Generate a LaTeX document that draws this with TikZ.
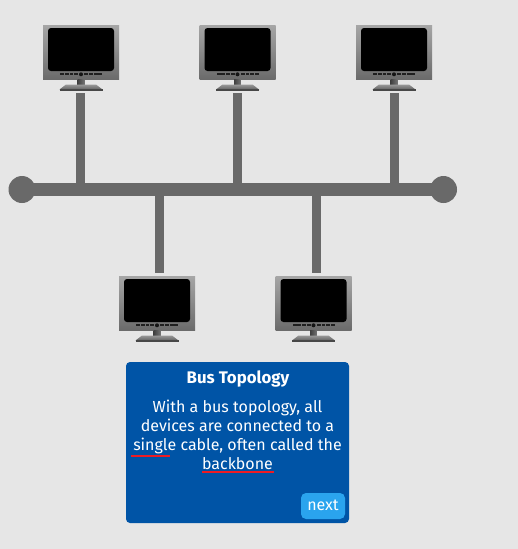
\documentclass[tikz,border=0pt]{standalone}
\usepackage{fontspec}
\setmainfont{Fira Sans}
\usetikzlibrary{calc}
\definecolor{bgc}{HTML}{E6E6E6}
\definecolor{cablec}{HTML}{696969}
\definecolor{cardc}{HTML}{0054A6}
\definecolor{btnc}{HTML}{2AA4EE}
\definecolor{redc}{HTML}{ED1C24}
\tikzset{
  x=1pt,y=-1pt,
  cable/.style={draw=cablec,line width=9pt},
  bus/.style={draw=cablec,line width=13pt},
  busend/.style={circle,fill=cablec,minimum size=27pt,inner sep=0pt,outer sep=0pt},
  cardbox/.style={fill=cardc,rounded corners=4pt},
  btnbox/.style={fill=btnc,rounded corners=5pt},
  cardtxt/.style={text=white,inner sep=0pt,align=center},
  mark line/.style={draw=redc,line width=2pt},
  pics/monitor/.style={code={
    \shade[top color=black!35,bottom color=black!58] (-38,0) rectangle (38,54);
    \fill[black,rounded corners=3pt] (-33,3) rectangle (33,46);
    \foreach \a/\b in {-21/-17,-16.5/-12.5,-11.5/-8,-7/-3,3/7,8/11.5,12.5/16.5,17/21}
      \fill[black!88] (\a,48.3) rectangle (\b,50.3);
    \fill[black!92] (0,49.3) circle (2);
    \shade[left color=black!75,right color=black!55] (-3.4,54) rectangle (3.4,60);
    \shade[top color=black!40,bottom color=black!62] (-15,59.5) -- (15,59.5) -- (21.5,64.5) -- (-21.5,64.5) -- cycle;
    \fill[black!72] (-21.5,64) rectangle (21.5,66);
  }}
}
\begin{document}
\begin{tikzpicture}
\useasboundingbox (0,0) rectangle (518,549);
\fill[bgc] (0,0) rectangle (518,549);
% monitors
\pic at (81,25) {monitor};
\pic at (237.5,25) {monitor};
\pic at (394,25) {monitor};
\pic at (157,276) {monitor};
\pic at (313.5,276) {monitor};
% anchors
\node[inner sep=0pt,minimum size=0pt] (m1) at (80.5,93) {};
\node[inner sep=0pt,minimum size=0pt] (m2) at (237.5,93) {};
\node[inner sep=0pt,minimum size=0pt] (m3) at (394.5,93) {};
\node[inner sep=0pt,minimum size=0pt] (m4) at (159.5,273) {};
\node[inner sep=0pt,minimum size=0pt] (m5) at (316.5,273) {};
\node[busend] (endL) at (22,189.5) {};
\node[busend] (endR) at (443.5,189.5) {};
% connectors
\draw[bus] (endL.center) -- (endR.center);
\draw[cable] (m1) -- (m1 |- endL);
\draw[cable] (m2) -- (m2 |- endL);
\draw[cable] (m3) -- (m3 |- endL);
\draw[cable] (m4) -- (m4 |- endL);
\draw[cable] (m5) -- (m5 |- endL);
% card
\fill[cardbox] (126,362) rectangle (349,523);
\node[cardtxt,font=\fontsize{16.8}{17}\selectfont\bfseries] (title) at (238,378.5) {Bus Topology};
\node[cardtxt,font=\fontsize{16}{19}\selectfont] (body) at (237.5,435) {With a bus topology, all\\devices are connected to a\\single cable, often called the\\backbone};
\coordinate (s1) at (131,456);
\coordinate (s2) at (170,456);
\coordinate (b1) at (202,472);
\coordinate (b2) at (273.5,472);
\draw[mark line] (s1) -- (s2);
\draw[mark line] (b1) -- (b2);
\fill[btnbox] (301,493) rectangle (345,519);
\node[cardtxt,font=\fontsize{16}{16}\selectfont] (next) at (323,505.5) {next};
\end{tikzpicture}
\end{document}
